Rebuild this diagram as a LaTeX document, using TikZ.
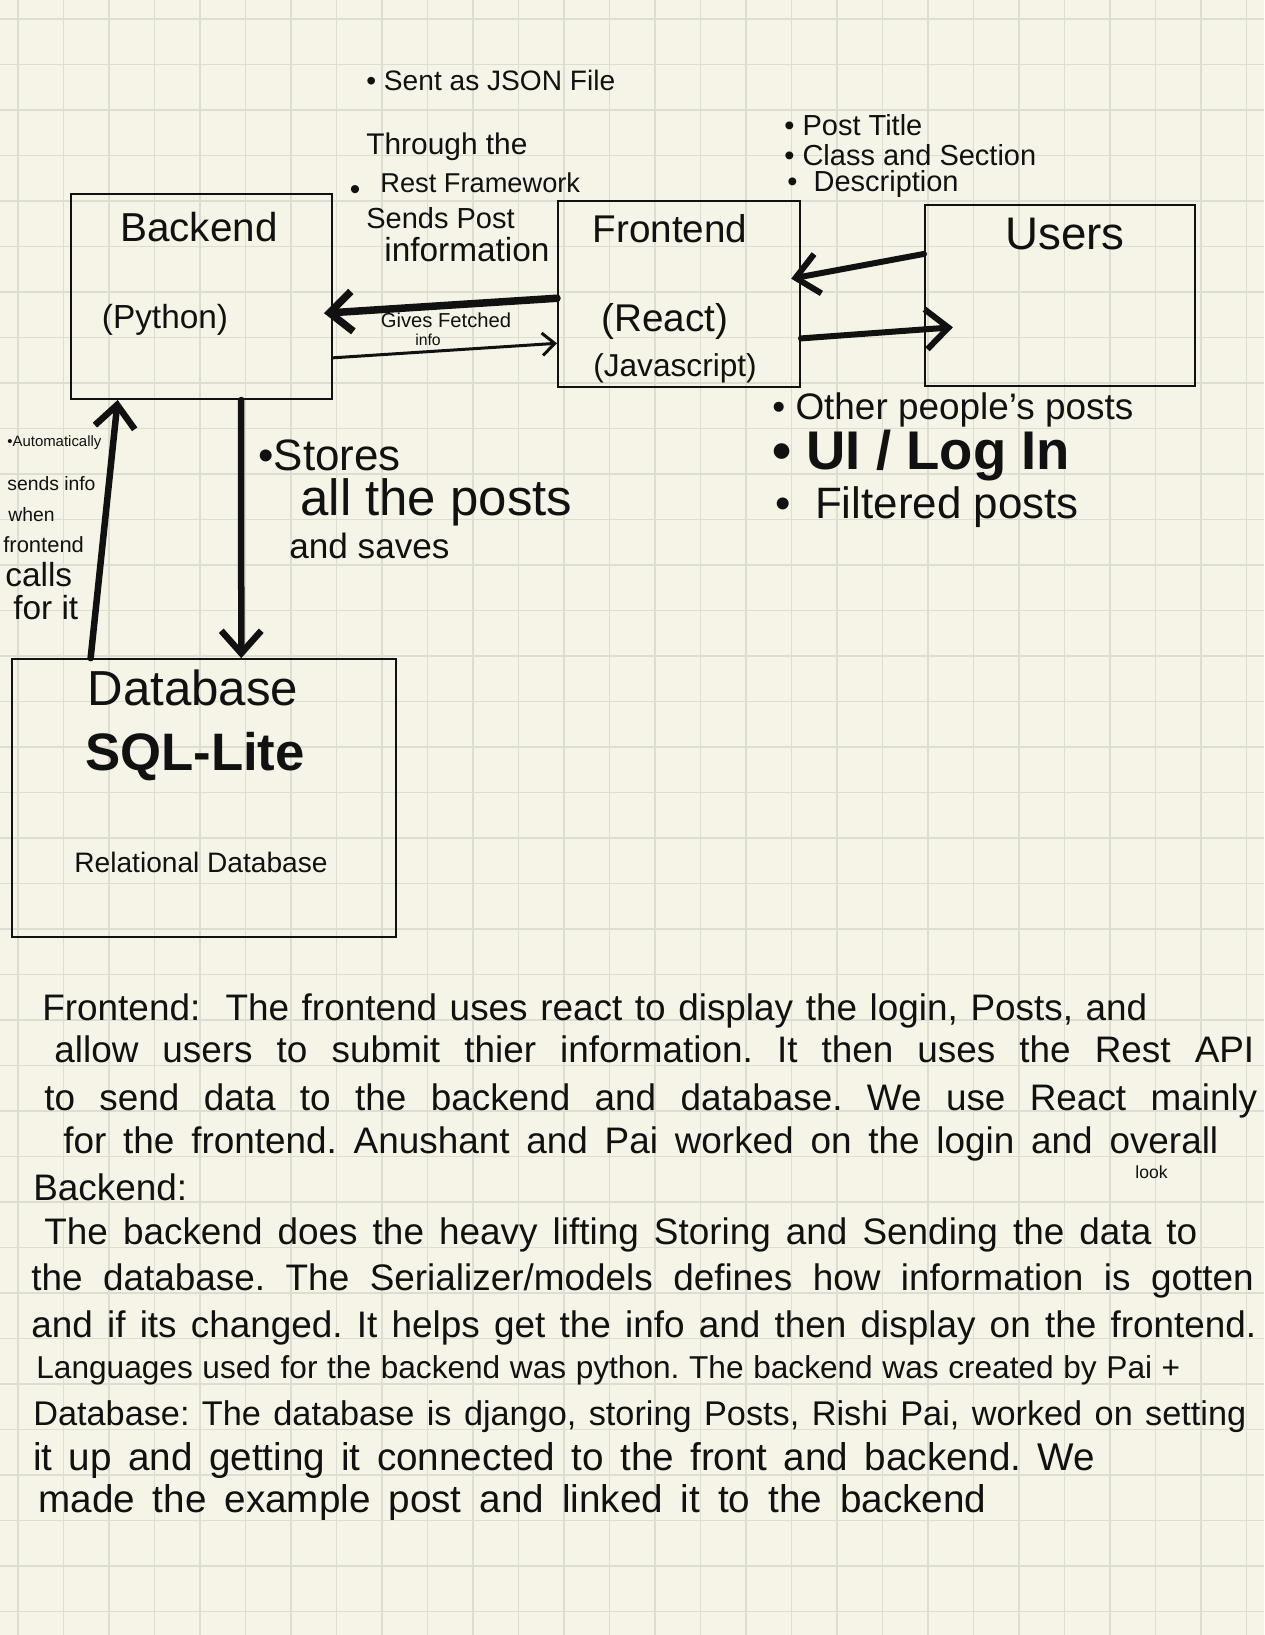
\documentclass[tikz,border=0pt]{standalone}
\usepackage{fontspec}
\setmainfont{Liberation Sans}
\usetikzlibrary{arrows.meta}
\definecolor{paper}{HTML}{F5F4E7}
\definecolor{gridline}{HTML}{DEDDD1}
\definecolor{ink}{HTML}{111111}
\newcommand{\hwsize}[1]{\fontsize{#1}{#1}\selectfont}
\newcommand{\hwline}[2]{\makebox[#1][s]{#2}}
\frenchspacing
\tikzset{
  box/.style={draw=ink,line width=0.4mm,inner sep=0pt},
  lbl/.style={inner sep=0pt,text=ink},
  pline/.style={lbl,anchor=base west,font=\hwsize{21}},
  fat/.style={draw=ink,line width=1.5mm,line cap=round,-{Straight Barb[length=4.5mm,width=8mm]}},
  slim/.style={draw=ink,line width=0.6mm,line cap=round,-{Straight Barb[length=2.5mm,width=4.5mm]}}
}
\begin{document}
\begin{tikzpicture}[x=0.2mm,y=-0.2mm]
  % paper and grid
  \useasboundingbox (0,0) rectangle (1264,1635);
  \fill[paper] (0,0) rectangle (1264,1635);
  \foreach \k in {0,...,27} \draw[gridline,line width=0.3mm] (18+45.5*\k,0) -- (18+45.5*\k,1635);
  \foreach \k in {0,...,35} \draw[gridline,line width=0.3mm] (0,19+45.5*\k) -- (1264,19+45.5*\k);
  % boxes
  \node[box,minimum width=52.2mm,minimum height=41mm] (be) at (201.5,296.5){};
  \node[box,minimum width=48.4mm,minimum height=37.2mm] (fe) at (679,294){};
  \node[box,minimum width=54mm,minimum height=36mm] (us) at (1060,295.5){};
  \node[box,minimum width=76.9mm,minimum height=55.5mm] (db) at (203.8,797.9){};
  \node[lbl,font=\hwsize{23}] (beT) at (199,227){Backend};
  \node[lbl,font=\hwsize{19}] (beS) at (165,320){(Python)};
  \node[lbl,font=\hwsize{22}] (feT) at (670,229){Frontend};
  \node[lbl,font=\hwsize{22}] (feS) at (665,321){(React)};
  \node[lbl,font=\hwsize{18}] (feJ) at (675,368){(Javascript)};
  \node[lbl,font=\hwsize{26}] (usT) at (1065,234){Users};
  \node[lbl,font=\hwsize{28}] (dbT) at (193,688){Database};
  \node[lbl,font=\hwsize{30}\bfseries] (dbS) at (195,757){SQL-Lite};
  \node[lbl,font=\hwsize{16}] (dbR) at (201,862){Relational Database};
  % notes round the boxes
  \node[lbl,anchor=west,font=\hwsize{16}] (json) at (366,80){\textbullet\ Sent as JSON File};
  \node[lbl,anchor=west,font=\hwsize{17}] (thr1) at (366,147){Through the};
  \node[lbl,anchor=west,font=\hwsize{15.5}] (thr2) at (380,183){Rest Framework};
  \node[lbl,font=\hwsize{17}] (thrB) at (355,193){\textbullet};
  \node[lbl,anchor=west,font=\hwsize{16.5}] (thr3) at (366,218){Sends Post};
  \node[lbl,anchor=west,font=\hwsize{19}] (thr4) at (384,250){information};
  \node[lbl,font=\hwsize{11.5}] (gives) at (446,320){Gives Fetched};
  \node[lbl,font=\hwsize{9}] (info) at (428,340){info};
  \node[lbl,anchor=west,font=\hwsize{16.5}] (pt1) at (784,125){\textbullet\ Post Title};
  \node[lbl,anchor=west,font=\hwsize{16.5}] (pt2) at (784,155){\textbullet\ Class and Section};
  \node[lbl,anchor=west,font=\hwsize{16.5}] (pt3) at (787,184){\textbullet\ \ Description};
  \node[lbl,anchor=west,font=\hwsize{21}] (ot1) at (772,410){\textbullet\ Other people's posts};
  \node[lbl,anchor=west,font=\hwsize{31}\bfseries] (ot2) at (772,456){\textbullet\ UI / Log In};
  \node[lbl,anchor=west,font=\hwsize{25}] (ot3) at (775,507){\textbullet\ \ Filtered posts};
  \node[lbl,anchor=west,font=\hwsize{25}] (st1) at (258,455){\textbullet Stores};
  \node[lbl,anchor=west,font=\hwsize{29}] (st2) at (300,502){all the posts};
  \node[lbl,anchor=west,font=\hwsize{20}] (st3) at (289,546){and saves};
  \node[lbl,anchor=west,font=\hwsize{8.5}] (au1) at (7,443){\textbullet Automatically};
  \node[lbl,anchor=west,font=\hwsize{11}] (au2) at (7,484){sends info};
  \node[lbl,anchor=west,font=\hwsize{11}] (au3) at (8,515){when};
  \node[lbl,anchor=west,font=\hwsize{12.5}] (au4) at (3,545){frontend};
  \node[lbl,anchor=west,font=\hwsize{19}] (au5) at (5,575){calls};
  \node[lbl,anchor=west,font=\hwsize{19}] (au6) at (13,608){for it};
  % connectors
  \draw[fat,shorten >=-1.8mm] (fe.182) -- (be.-7);
  \draw[slim] (be.-25) -- (fe.202.5);
  \draw[fat,line width=1.2mm,shorten >=-2mm] (us.163) -- (fe.8);
  \draw[fat,line width=1.2mm,shorten >=-5.8mm] (fe.-20) -- (us.194);
  \draw[fat,line width=1.3mm] (be.291) -- (db.75);
  \draw[fat,line width=1.3mm] (db.129) -- (be.231);
  % notes below
  \node[pline] (l1) at (42,1020){\hwline{221mm}{Frontend:\ \ The frontend uses react to display the login, Posts, and}};
  \node[pline] (l2) at (54,1062){\hwline{240mm}{allow users to submit thier information. It then uses the Rest API}};
  \node[pline] (l3) at (44,1110){\hwline{242.6mm}{to send data to the backend and database. We use React mainly}};
  \node[pline] (l4) at (63,1153){\hwline{231mm}{for the frontend. Anushant and Pai worked on the login and overall}};
  \node[lbl,anchor=base west,font=\hwsize{10}] (look) at (1135,1178){look};
  \node[pline] (l5) at (33,1200){Backend:};
  \node[pline] (l6) at (44,1244){\hwline{230.6mm}{The backend does the heavy lifting Storing and Sending the data to}};
  \node[pline] (l7) at (31,1290){\hwline{244.5mm}{the database. The Serializer/models defines how information is gotten}};
  \node[pline] (l8) at (31,1337){\hwline{245mm}{and if its changed. It helps get the info and then display on the frontend.}};
  \node[pline,font=\hwsize{18}] (l9) at (36,1378){\hwline{228.8mm}{Languages used for the backend was python. The backend was created by Pai +}};
  \node[pline,font=\hwsize{19.5}] (l10) at (33,1425){\hwline{242.6mm}{Database: The database is django, storing Posts, Rishi Pai, worked on setting}};
  \node[pline,font=\hwsize{22}] (l11) at (33,1470){\hwline{212.4mm}{it up and getting it connected to the front and backend. We}};
  \node[pline,font=\hwsize{22}] (l12) at (38,1512){\hwline{189.6mm}{made the example post and linked it to the backend}};
\end{tikzpicture}
\end{document}
